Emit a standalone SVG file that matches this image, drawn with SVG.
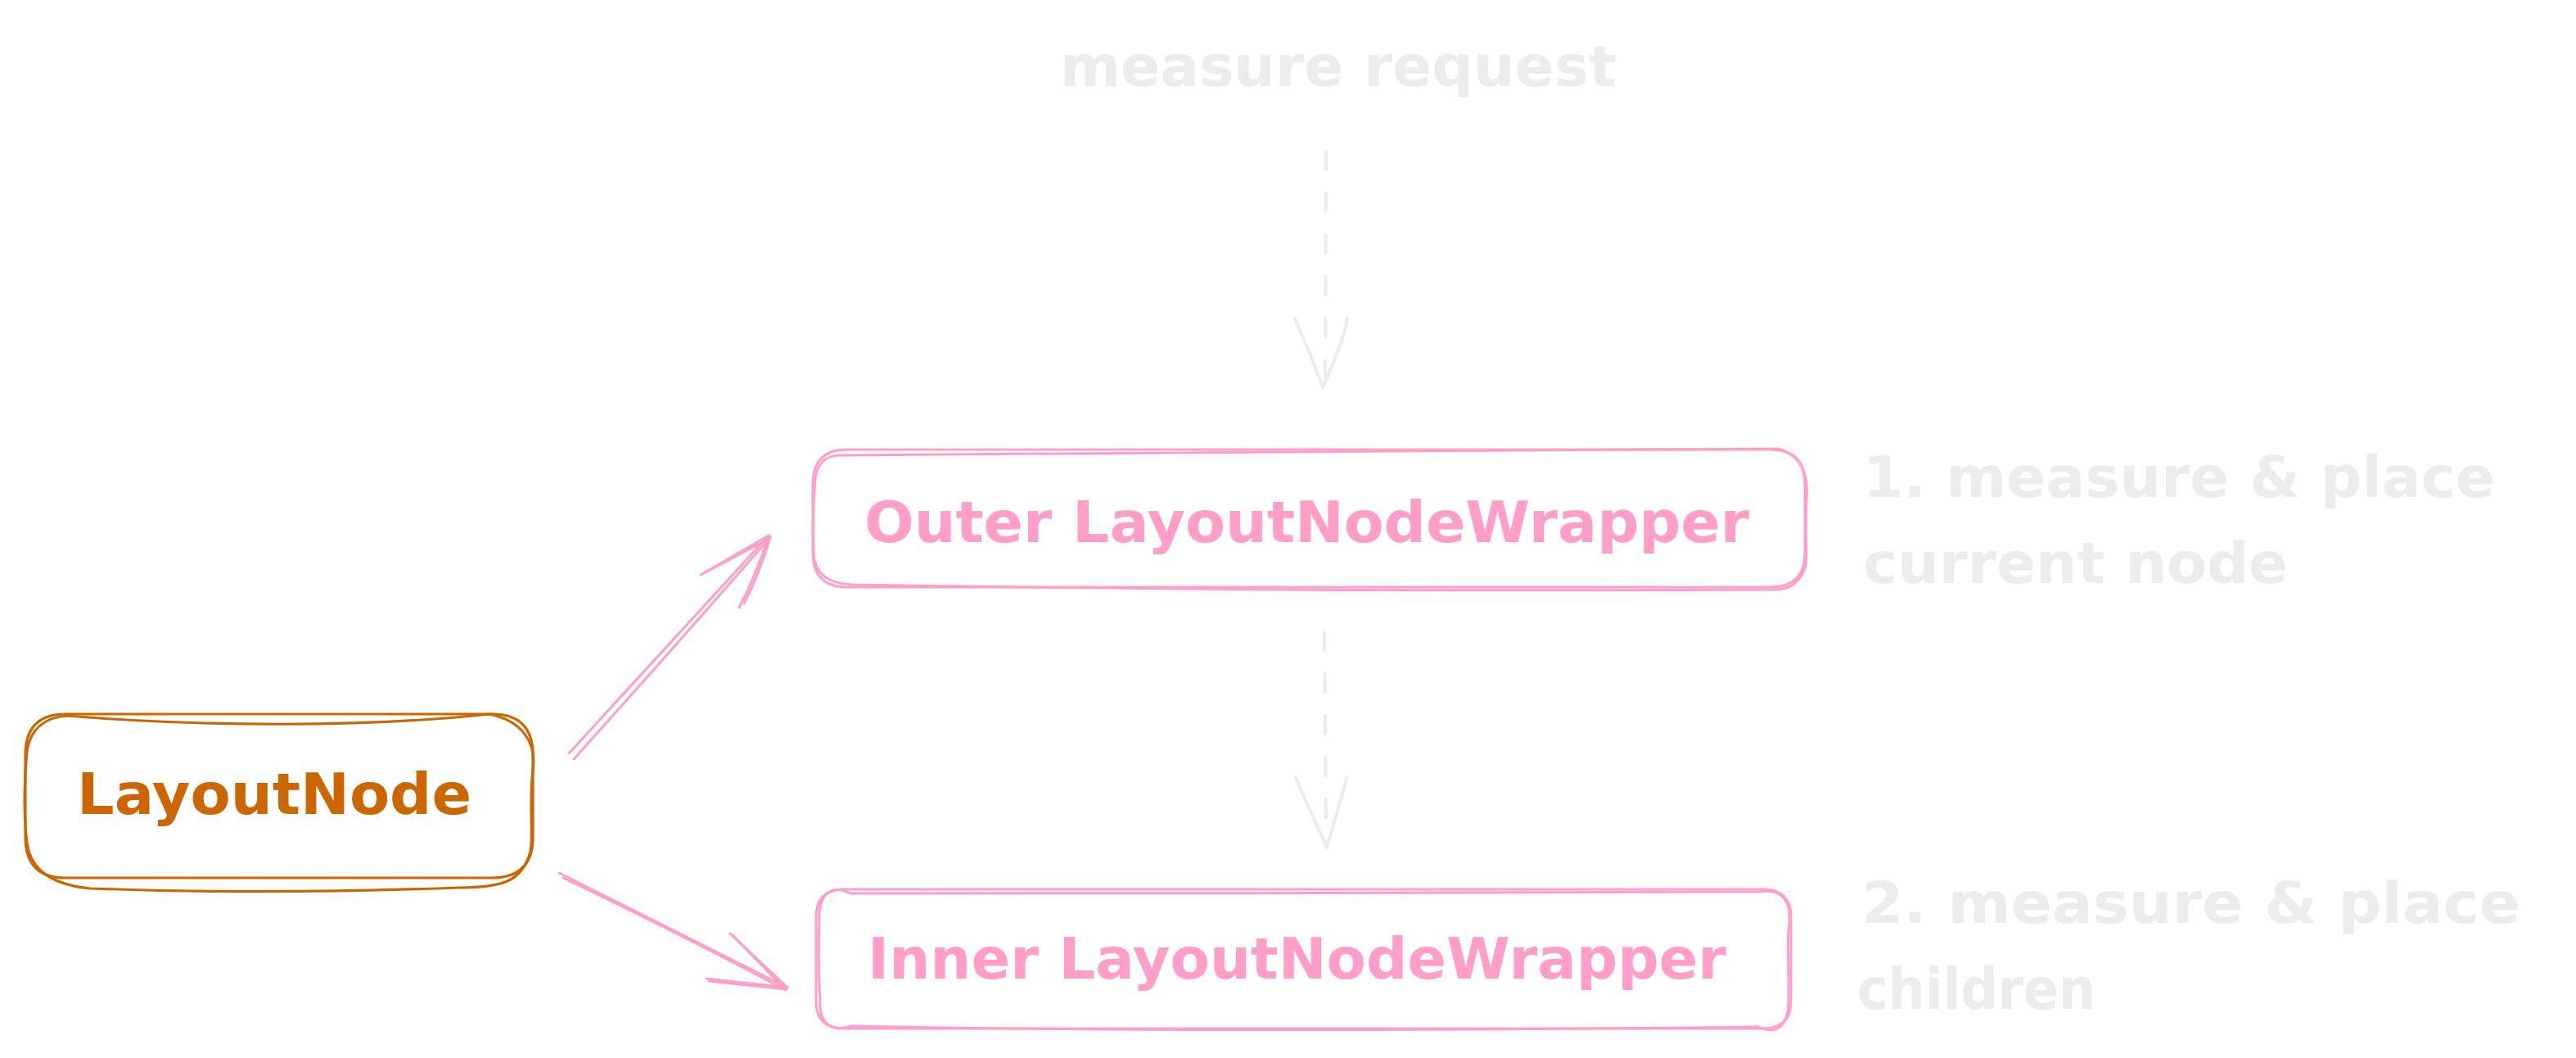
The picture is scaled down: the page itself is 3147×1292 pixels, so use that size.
<svg xmlns="http://www.w3.org/2000/svg" width="3147" height="1292" viewBox="0 0 3147 1292">
<style>
.sk{fill:none;stroke-linecap:round;stroke-linejoin:round}
.pink{stroke:#ff9fc9;stroke-width:3}
.orange{stroke:#cc6600;stroke-width:3.2}
.gray{stroke:#ececec;stroke-width:4}
.dash{stroke-dasharray:22 29}
text{font-family:"DejaVu Sans","Liberation Sans",sans-serif;font-size:70px;font-weight:bold}
.tp{fill:#ff9fc9}
.to{fill:#cc6600}
.tg{fill:#ececec}
</style>
<rect width="3147" height="1292" fill="#ffffff"/>

<g id="label-measure-request">
<text class="tg" x="1295" y="105" textLength="680" lengthAdjust="spacingAndGlyphs">measure request</text>
</g>

<g id="node-layoutnode">
<path class="sk orange" d="M80,872 L601,872 Q651,872 651,922 L651,1022 Q651,1072 601,1072 L80,1072 Q31,1072 31,1022 L31,922 Q31,872 80,872 Z"/>
<path class="sk orange" d="M82,874 C250,888 450,888 598,872 C636,880 656,905 651,940 C646,980 652,1020 648,1040 C638,1076 615,1084 560,1084 C400,1090 250,1090 110,1085 C62,1080 38,1062 33,1030 C28,990 30,950 33,917 C38,886 58,876 82,874 Z"/>
<text class="to" x="94" y="994" textLength="482" lengthAdjust="spacingAndGlyphs">LayoutNode</text>
</g>

<g id="node-outer">
<path class="sk pink" d="M1035,549 L2163,549 Q2205,549 2205,591 L2205,675 Q2205,717 2163,717 L1035,717 Q993,717 993,675 L993,591 Q993,549 1035,549 Z"/>
<path class="sk pink" d="M1027,556 C1400,552 1800,551 2172,548 C2200,555 2210,580 2207,610 C2205,640 2208,670 2206,690 C2200,712 2185,720 2168,720 C1800,722 1400,720 1040,714 C1010,712 995,700 994,675 C992,640 994,610 996,585 C998,565 1010,556 1027,556 Z"/>
<text class="tp" x="1056" y="662" textLength="1081" lengthAdjust="spacingAndGlyphs">Outer LayoutNodeWrapper</text>
</g>

<g id="node-inner">
<path class="sk pink" d="M1031,1086 L2154,1086 Q2188,1086 2188,1120 L2188,1222 Q2188,1256 2154,1256 L1031,1256 Q997,1256 997,1222 L997,1120 Q997,1086 1031,1086 Z"/>
<path class="sk pink" d="M1038,1091 C1400,1090 1800,1092 2150,1089 C2178,1085 2190,1100 2185,1135 C2183,1170 2187,1210 2184,1235 C2180,1258 2165,1262 2148,1254 C1800,1258 1400,1260 1040,1253 C1012,1262 1000,1245 1002,1220 C999,1185 1000,1150 1001,1115 C1002,1090 1020,1080 1038,1091 Z"/>
<text class="tp" x="1060" y="1195" textLength="1049" lengthAdjust="spacingAndGlyphs">Inner LayoutNodeWrapper</text>
</g>

<g id="label-step1">
<text class="tg" x="2276" y="607" textLength="772" lengthAdjust="spacingAndGlyphs">1. measure &amp; place</text>
<text class="tg" x="2276" y="712" textLength="519" lengthAdjust="spacingAndGlyphs">current node</text>
</g>

<g id="label-step2">
<text class="tg" x="2274" y="1127" textLength="805" lengthAdjust="spacingAndGlyphs">2. measure &amp; place</text>
<text class="tg" x="2269" y="1232" textLength="291" lengthAdjust="spacingAndGlyphs">children</text>
</g>

<g id="connectors">
<g id="edge-request-outer">
<path class="sk gray dash" d="M1620,185 L1619,470"/>
<path class="sk gray" d="M1582,389 C1595,420 1606,445 1616,473"/>
<path class="sk gray" d="M1646,389 C1640,420 1628,445 1616,473"/>
</g>
<g id="edge-outer-inner">
<path class="sk gray dash" d="M1618,772 L1620,1030"/>
<path class="sk gray" d="M1583,950 C1598,985 1610,1010 1621,1035"/>
<path class="sk gray" d="M1645,950 C1636,985 1628,1010 1621,1035"/>
</g>
<g id="edge-layoutnode-outer">
<path class="sk pink" d="M695,920 L939,654"/>
<path class="sk pink" d="M701,927 Q820,795 941,656"/>
<path class="sk pink" d="M939,654 L856,702"/>
<path class="sk pink" d="M941,657 L860,700"/>
<path class="sk pink" d="M939,654 Q925,700 903,742"/>
<path class="sk pink" d="M941,656 Q928,700 909,737"/>
</g>
<g id="edge-layoutnode-inner">
<path class="sk pink" d="M683,1066 L962,1206"/>
<path class="sk pink" d="M688,1072 Q830,1140 960,1209"/>
<path class="sk pink" d="M962,1206 L892,1140"/>
<path class="sk pink" d="M958,1207 L895,1142"/>
<path class="sk pink" d="M962,1206 L863,1195"/>
<path class="sk pink" d="M960,1208 L866,1198"/>
</g>
</g>
</svg>
